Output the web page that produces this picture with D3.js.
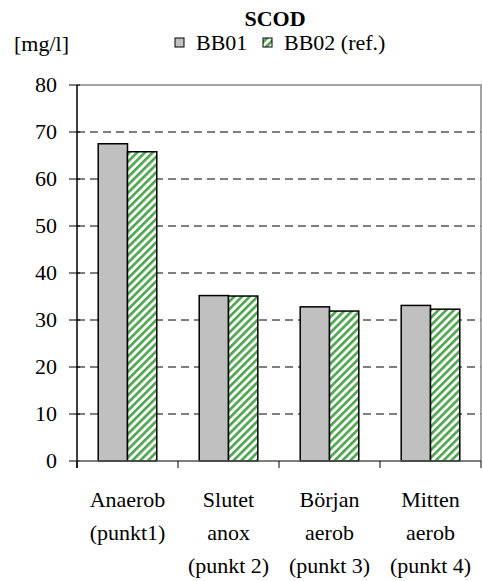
<!DOCTYPE html>
<html><head><meta charset="utf-8">
<script src="https://cdn.jsdelivr.net/npm/d3@7"></script>
<style>body{margin:0;background:#fff}svg{display:block}svg text{font-family:"Liberation Serif" !important;}</style>
</head><body>
<svg id="c" width="483" height="581"></svg>
<script>
const categories = [["Anaerob","(punkt1)"],["Slutet","anox","(punkt 2)"],["Början","aerob","(punkt 3)"],["Mitten","aerob","(punkt 4)"]];
const seriesNames = ["BB01","BB02 (ref.)"];
const bb01 = [67.5, 35.2, 32.8, 33.1];
const bb02 = [65.8, 35.1, 31.9, 32.3];
const yTicks = [0,10,20,30,40,50,60,70,80];

const FONT = '"Liberation Serif"';
const FS = 22;
const svg = d3.select("#c");
const L = 77, R = 481, T = 85, B = 461;
const x = d3.scaleBand().domain(d3.range(categories.length)).range([L, R]);
const y = d3.scaleLinear().domain([0, 80]).range([B, T]);
const gw = x.bandwidth() * 0.58;
const x1 = d3.scaleBand().domain([0,1]).range([0, gw]);

const defs = svg.append("defs");
const pat = defs.append("pattern").attr("id","hatch").attr("patternUnits","userSpaceOnUse")
  .attr("width",5.5).attr("height",5.5).attr("patternTransform","rotate(45)");
pat.append("rect").attr("width",5.5).attr("height",5.5).attr("fill","#fff");
pat.append("rect").attr("width",2.6).attr("height",5.5).attr("fill","#4aa64a");

svg.append("g").selectAll("line").data(yTicks.filter(d => d > 0 && d < 80)).join("line")
  .attr("x1", L).attr("x2", R).attr("y1", d => y(d)).attr("y2", d => y(d))
  .attr("stroke","#000").attr("stroke-width",1).attr("stroke-dasharray","8,5");

svg.append("path").attr("d", `M${L},${T}H${R}V${B}`).attr("fill","none").attr("stroke","#888").attr("stroke-width",1.5);

const series = [bb01, bb02];
const fills = ["#c0c0c0", "url(#hatch)"];
series.forEach((vals, si) => {
  svg.append("g").selectAll("rect").data(vals).join("rect")
    .attr("x", (d,i) => x(i) + (x.bandwidth()-gw)/2 + x1(si))
    .attr("width", x1.bandwidth())
    .attr("y", d => y(d))
    .attr("height", d => y(0) - y(d))
    .attr("fill", fills[si]).attr("stroke","#000").attr("stroke-width",1.5);
});

const yg = svg.append("g");
yg.append("line").attr("x1",L).attr("x2",L).attr("y1",T).attr("y2",B+7).attr("stroke","#000").attr("stroke-width",1.5);
yg.selectAll("line.t").data(yTicks).join("line").attr("class","t")
  .attr("x1",L-8).attr("x2",L+3).attr("y1",d=>y(d)).attr("y2",d=>y(d)).attr("stroke","#000");
yg.selectAll("text").data(yTicks).join("text")
  .attr("x",L-20).attr("y",d=>y(d)).attr("dy","0.34em").attr("text-anchor","end")
  .attr("font-size",FS).style("font-family",FONT).text(d=>d);

svg.append("line").attr("x1",L).attr("x2",R).attr("y1",B).attr("y2",B).attr("stroke","#555").attr("stroke-width",1.5);
svg.append("g").selectAll("line").data(d3.range(categories.length+1)).join("line")
  .attr("x1", i => i < categories.length ? x(i) : R).attr("x2", i => i < categories.length ? x(i) : R)
  .attr("y1", B).attr("y2", B+7).attr("stroke","#000");
const xl = svg.append("g").selectAll("text").data(categories).join("text")
  .attr("text-anchor","middle").attr("font-size",FS).style("font-family",FONT)
  .attr("transform",(d,i)=>`translate(${x(i)+x.bandwidth()/2},0)`);
xl.each(function(lines){
  d3.select(this).selectAll("tspan").data(lines).join("tspan")
    .attr("x",0).attr("y",(d,j)=>507+j*33).text(d=>d);
});

svg.append("text").attr("x",275).attr("y",26).attr("text-anchor","middle").attr("font-size",FS).attr("font-weight","bold").style("font-family",FONT).text("SCOD");
svg.append("text").attr("x",14).attr("y",51).attr("font-size",FS).style("font-family",FONT).text("[mg/l]");

const leg = [{x:175, n:seriesNames[0], f:fills[0]},{x:263, n:seriesNames[1], f:fills[1]}];
leg.forEach(l=>{
  svg.append("rect").attr("x",l.x).attr("y",38).attr("width",9).attr("height",9).attr("fill",l.f).attr("stroke","#000").attr("stroke-width",1);
  svg.append("text").attr("x",l.x+21).attr("y",50).attr("font-size",FS).style("font-family",FONT).text(l.n);
});
</script>
</body></html>
